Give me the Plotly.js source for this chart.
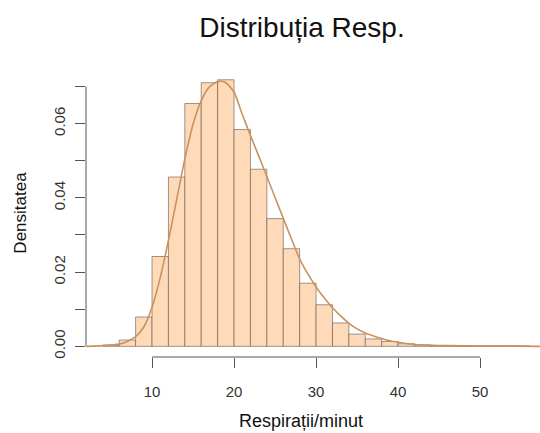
<!DOCTYPE html>
<html>
<head>
<meta charset="utf-8">
<script src="https://cdn.plot.ly/plotly-3.0.1.min.js"></script>
<style>html,body{margin:0;padding:0;background:#fff;}#chart{width:540px;height:433px;}</style>
</head>
<body>
<div id="chart"></div>
<script>
// Histogram bins (centers, width 2) and densities
const binCenters = [5, 7, 9, 11, 13, 15, 17, 19, 21, 23, 25, 27, 29, 31, 33, 35, 37, 39, 41, 43, 45, 47, 49, 51, 53, 55];
const binDensity = [0.0003, 0.0017, 0.0079, 0.0242, 0.0456, 0.0654, 0.0710, 0.0718, 0.0584, 0.0477, 0.0344, 0.0263, 0.0170, 0.0112, 0.0063, 0.0033, 0.0020, 0.0013, 0.0007, 0.0004, 0.0002, 0.0001, 0.0001, 0.0001, 0.0001, 0.0001];

// Kernel density curve
const kdeX = [2, 4, 6, 7, 8, 9, 10, 11, 12, 13, 14, 15, 16, 17, 18, 18.5, 19, 20, 21, 22, 23, 24, 25, 26, 27, 28, 29, 30, 31, 32, 33, 34, 35, 36, 37, 38, 39, 40, 42, 44, 46, 50, 54, 57.5];
const kdeY = [0.0000, 0.0002, 0.0006, 0.0013, 0.0026, 0.0052, 0.0105, 0.0185, 0.0285, 0.0395, 0.0505, 0.0598, 0.0662, 0.0699, 0.0713, 0.0714, 0.0710, 0.0685, 0.0625, 0.0568, 0.0513, 0.0457, 0.0401, 0.0345, 0.0289, 0.0235, 0.0195, 0.0160, 0.0130, 0.0104, 0.0082, 0.0062, 0.0047, 0.0036, 0.0028, 0.0021, 0.0015, 0.0011, 0.0005, 0.0003, 0.0002, 0.0001, 0.00005, 0.0000];

const xTicks = [10, 20, 30, 40, 50];
const yTicks = [0, 0.01, 0.02, 0.03, 0.04, 0.05, 0.06, 0.07];
const yTickText = ['0.00', '', '0.02', '', '0.04', '', '0.06', ''];

const font = 'Liberation Sans, Arial, Helvetica, sans-serif';

const traces = [
  {
    type: 'bar', x: binCenters, y: binDensity, width: 2,
    marker: {color: '#FFDAB9', line: {color: 'rgba(110,95,85,0.65)', width: 1}},
    hoverinfo: 'x+y'
  },
  {
    type: 'scatter', mode: 'lines', x: kdeX, y: kdeY,
    line: {color: '#C8935E', width: 1.6, shape: 'spline', smoothing: 0.6},
    hoverinfo: 'x+y'
  }
];

const layout = {
  width: 540, height: 433,
  margin: {l: 86, r: 0, t: 69, b: 76, pad: 0},
  paper_bgcolor: '#fff', plot_bgcolor: '#fff',
  showlegend: false,
  bargap: 0,
  font: {family: font, color: '#222'},
  title: {
    text: 'Distribuția Resp.',
    font: {family: font, size: 28, color: '#111'},
    x: 302 / 540, xref: 'container', xanchor: 'center',
    y: 1 - 27 / 433, yref: 'container', yanchor: 'middle'
  },
  xaxis: {
    range: [1.95, 57.3], showgrid: false, zeroline: false, showline: false,
    tickmode: 'array', tickvals: xTicks, ticktext: xTicks.map(String),
    ticks: 'outside', ticklen: 10, tickwidth: 1, tickcolor: '#555',
    tickfont: {family: font, size: 15, color: '#333'},
    ticklabelstandoff: 11
  },
  yaxis: {
    range: [-0.00287, 0.0747], showgrid: false, zeroline: false, showline: false,
    tickmode: 'array', tickvals: yTicks, ticktext: yTickText,
    ticks: 'outside', ticklen: 10, tickwidth: 1, tickcolor: '#555',
    tickangle: -90,
    tickfont: {family: font, size: 15, color: '#333'},
    ticklabelstandoff: 4,
    title: {text: 'Densitatea', font: {family: font, size: 17, color: '#111'}, standoff: 20}
  },
  annotations: [
    {text: 'Respirații/minut', xref: 'paper', yref: 'paper',
     x: (301 - 86) / 454, xanchor: 'center',
     y: -(421 - 357.4) / 288, yanchor: 'middle',
     showarrow: false, font: {family: font, size: 18, color: '#111'}}
  ],
  shapes: [
    {type: 'line', xref: 'x', yref: 'paper', x0: 10, x1: 50, y0: 0, y1: 0, line: {color: '#555', width: 1}},
    {type: 'line', xref: 'paper', yref: 'y', x0: 0, x1: 0, y0: 0, y1: 0.07, line: {color: '#555', width: 1}}
  ]
};

Plotly.newPlot('chart', traces, layout, {displayModeBar: false, staticPlot: true});
</script>
</body>
</html>
